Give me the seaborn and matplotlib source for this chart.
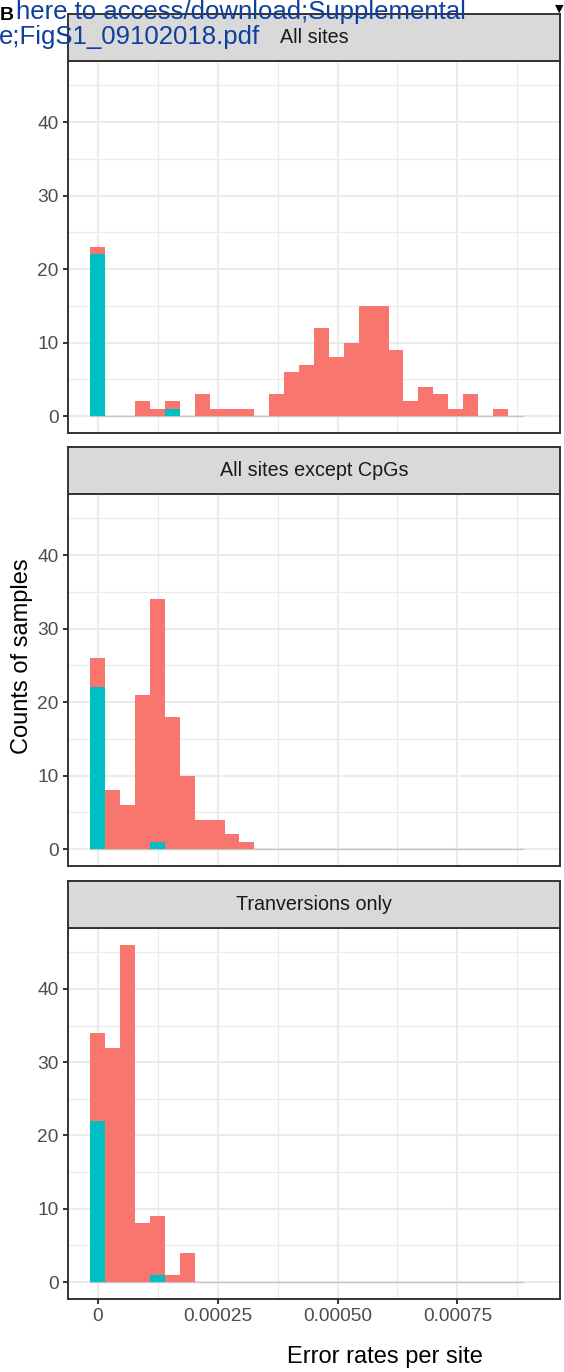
import numpy as np
import pandas as pd
import matplotlib
matplotlib.use("Agg")
import matplotlib.pyplot as plt
import seaborn as sns

# ---- data -------------------------------------------------------------
panel_titles = ["All sites", "All sites except CpGs", "Tranversions only"]
groups = ["Samples", "Controls"]
group_colors = ["#F8766D", "#00BFC4"]

bin_width = 0.0000311          # histogram bin width (error rate per site)
n_bins = 30                    # bin k is centred on k * bin_width

# sample counts per bin, one list per panel and group
all_sites_samples = [1, 0, 0, 2, 1, 1, 0, 3, 1, 1, 1, 0, 3, 6, 7, 12, 8, 10, 15, 15,
                     9, 2, 4, 3, 1, 3, 0, 1, 0, 0]
all_sites_controls = [22, 0, 0, 0, 0, 1, 0, 0, 0, 0, 0, 0, 0, 0, 0, 0, 0, 0, 0, 0,
                      0, 0, 0, 0, 0, 0, 0, 0, 0, 0]
non_cpg_samples = [4, 8, 6, 21, 33, 18, 10, 4, 4, 2, 1, 0, 0, 0, 0, 0, 0, 0, 0, 0,
                   0, 0, 0, 0, 0, 0, 0, 0, 0, 0]
non_cpg_controls = [22, 0, 0, 0, 1, 0, 0, 0, 0, 0, 0, 0, 0, 0, 0, 0, 0, 0, 0, 0,
                    0, 0, 0, 0, 0, 0, 0, 0, 0, 0]
transv_samples = [12, 32, 46, 8, 8, 1, 4, 0, 0, 0, 0, 0, 0, 0, 0, 0, 0, 0, 0, 0,
                  0, 0, 0, 0, 0, 0, 0, 0, 0, 0]
transv_controls = [22, 0, 0, 0, 1, 0, 0, 0, 0, 0, 0, 0, 0, 0, 0, 0, 0, 0, 0, 0,
                   0, 0, 0, 0, 0, 0, 0, 0, 0, 0]

x_ticks = [0, 0.00025, 0.0005, 0.00075]
x_tick_labels = ["0", "0.00025", "0.00050", "0.00075"]
y_ticks = [0, 10, 20, 30, 40]

panel_counts = [
    (all_sites_samples, all_sites_controls),
    (non_cpg_samples, non_cpg_controls),
    (transv_samples, transv_controls),
]

# ---- styling ----------------------------------------------------------
sns.set_style("white")
plt.rcParams["font.family"] = ["Liberation Sans", "DejaVu Sans"]

W, H = 564, 1372
fig = plt.figure(figsize=(W / 100, H / 100), dpi=100)

def fig_box(x0, y0, x1, y1):
    """pixel box (top-left origin) -> figure fraction rect"""
    return [x0 / W, 1 - y1 / H, (x1 - x0) / W, (y1 - y0) / H]

panel_px = [(61, 433), (494, 866), (928, 1299)]
strip_h = 47
left_px, right_px = 68, 560

centers = np.arange(n_bins) * bin_width
lo_edge = -0.5 * bin_width
hi_edge = (n_bins - 0.5) * bin_width
span = hi_edge - lo_edge
xlim = (lo_edge - 0.05 * span, hi_edge + 0.05 * span)
ymax = max(max(np.add(s, c)) for s, c in panel_counts)
ylim = (-0.05 * ymax, 1.05 * ymax)

border = "#333333"
tick_size = 13.8

for i, ((samp, ctrl), title) in enumerate(zip(panel_counts, panel_titles)):
    top, bottom = panel_px[i]
    ax = fig.add_axes(fig_box(left_px, top, right_px, bottom))

    df = pd.DataFrame({
        "rate": np.concatenate([centers, centers]),
        "count": np.concatenate([samp, ctrl]).astype(float),
        "group": [groups[0]] * n_bins + [groups[1]] * n_bins,
    })

    # zero-count baseline of the binned range
    ax.plot([lo_edge, hi_edge - bin_width], [0, 0], color="#C6C6C6", lw=1.0,
            zorder=1.5)

    sns.histplot(data=df, x="rate", weights="count", hue="group",
                 hue_order=groups, palette=group_colors, multiple="stack",
                 binwidth=bin_width, binrange=(lo_edge, hi_edge), ax=ax,
                 legend=False, alpha=1, linewidth=0, zorder=2)

    ax.set_xlim(*xlim)
    ax.set_ylim(*ylim)
    ax.set_xticks(x_ticks)
    ax.set_xticks([0.000125, 0.000375, 0.000625, 0.000875], minor=True)
    ax.set_yticks(y_ticks)
    ax.set_yticks([5, 15, 25, 35, 45], minor=True)
    ax.set_axisbelow(True)
    ax.grid(which="major", color="#EBEBEB", lw=1.5)
    ax.grid(which="minor", color="#EBEBEB", lw=0.8)
    ax.set_xlabel("")
    ax.set_ylabel("")
    for sp in ax.spines.values():
        sp.set_color(border)
        sp.set_linewidth(1.4)
        sp.set_visible(True)
    ax.tick_params(axis="y", which="major", left=True, length=3.7, width=1.4,
                   color=border, labelcolor="#4D4D4D", labelsize=tick_size, pad=3)
    ax.tick_params(which="minor", length=0)
    if i == len(panel_counts) - 1:
        ax.set_xticklabels(x_tick_labels)
        ax.tick_params(axis="x", which="major", bottom=True, length=3.7,
                       width=1.4, color=border, labelcolor="#4D4D4D",
                       labelsize=tick_size, pad=3)
    else:
        ax.tick_params(axis="x", which="major", bottom=False, labelbottom=False)

    # facet strip
    sax = fig.add_axes(fig_box(left_px, top - strip_h, right_px, top))
    sax.set_facecolor("#D9D9D9")
    sax.set_xticks([])
    sax.set_yticks([])
    for sp in sax.spines.values():
        sp.set_color(border)
        sp.set_linewidth(1.4)
        sp.set_visible(True)
    sax.text(0.5, 0.5, title, ha="center", va="center", fontsize=14.2,
             color="#1A1A1A", transform=sax.transAxes)

fig.text(22 / W, 1 - 656 / H, "Counts of samples", rotation=90,
         ha="center", va="center", fontsize=17, color="black")
fig.text(385 / W, 1 - 1357 / H, "Error rates per site",
         ha="center", va="center", fontsize=17, color="black")

# page header fragments
link_color = "#0E3F9E"
fig.text(16 / W, 1 - 19 / H, "here to access/download;Supplemental",
         ha="left", va="baseline", fontsize=18.5, color=link_color, zorder=10)
fig.text(-1 / W, 1 - 44 / H, "e;FigS1_09102018.pdf",
         ha="left", va="baseline", fontsize=18.5, color=link_color, zorder=10)
fig.text(0, 1 - 20 / H, "B", ha="left", va="baseline", fontsize=14,
         fontweight="bold", color="black", zorder=11)
fig.text(555 / W, 1 - 12 / H, "\u25BC", ha="left", va="baseline",
         fontsize=8, color="black", family=["DejaVu Sans"], zorder=11)

fig.savefig("out.png", dpi=100)
